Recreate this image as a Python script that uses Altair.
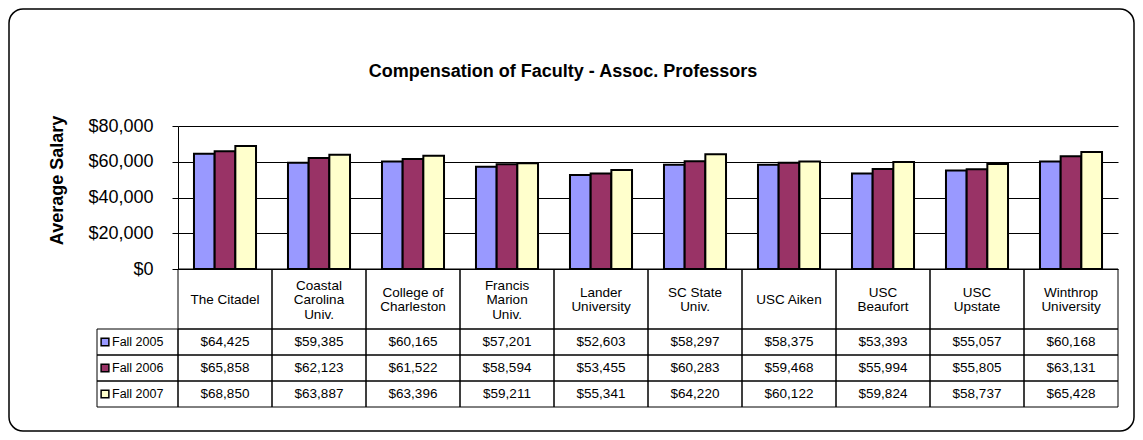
import altair as alt
import pandas as pd

categories = ["The Citadel", "Coastal Carolina Univ.", "College of Charleston",
              "Francis Marion Univ.", "Lander University", "SC State Univ.",
              "USC Aiken", "USC Beaufort", "USC Upstate", "Winthrop University"]
header_labels = ["The Citadel", "Coastal\nCarolina\nUniv.", "College of\nCharleston",
                 "Francis\nMarion\nUniv.", "Lander\nUniversity", "SC State\nUniv.",
                 "USC Aiken", "USC\nBeaufort", "USC\nUpstate", "Winthrop\nUniversity"]
series = ["Fall 2005", "Fall 2006", "Fall 2007"]
fall_2005 = [64425, 59385, 60165, 57201, 52603, 58297, 58375, 53393, 55057, 60168]
fall_2006 = [65858, 62123, 61522, 58594, 53455, 60283, 59468, 55994, 55805, 63131]
fall_2007 = [68850, 63887, 63396, 59211, 55341, 64220, 60122, 59824, 58737, 65428]
colors = ["#9999FF", "#993366", "#FFFFCC"]
y_ticks = [0, 20000, 40000, 60000, 80000]

rows = []
for s, vals in zip(series, [fall_2005, fall_2006, fall_2007]):
    for c, v in zip(categories, vals):
        rows.append({"category": c, "series": s, "value": v, "label": f"${v:,}"})
df = pd.DataFrame(rows)
hdf = pd.DataFrame({"category": categories, "header": header_labels,
                    "nlines": [h.count("\n") + 1 for h in header_labels]})
sdf = pd.DataFrame({"series": series})
fdf = pd.DataFrame({"k": [0]})

FONT = "Liberation Sans"
LH = 14.5

color_enc = alt.Color("series:N", sort=series,
                      scale=alt.Scale(domain=series, range=colors), legend=None)

bars = alt.Chart(df).mark_bar(stroke="black", strokeWidth=2).encode(
    x=alt.X("category:N", sort=categories,
            scale=alt.Scale(domain=categories, paddingInner=0.34, paddingOuter=0.17), axis=None),
    xOffset=alt.XOffset("series:N", sort=series,
                        scale=alt.Scale(domain=series, paddingInner=0, paddingOuter=0)),
    y=alt.Y("value:Q", scale=alt.Scale(domain=[0, 80000]),
            axis=alt.Axis(values=y_ticks, format="$,.0f", title="Average Salary",
                          titleFont=FONT, titleFontSize=18, titleFontWeight="bold",
                          titleColor="black", titleAngle=270, titleAlign="center",
                          titleBaseline="middle", titleX=-121, titleY=54,
                          labelFont=FONT, labelFontSize=18, labelColor="black",
                          labelPadding=19, tickSize=6, tickColor="black",
                          domainColor="black", grid=True, gridColor="black",
                          gridOpacity=1, gridWidth=1, tickWidth=1, domainWidth=1)),
    color=color_enc,
)

x_tab = alt.X("category:N", sort=categories,
              scale=alt.Scale(domain=categories, paddingInner=0, paddingOuter=0), axis=None)
y_tab = alt.Y("series:N", sort=series,
              scale=alt.Scale(domain=series, range=[203, 281], paddingInner=0, paddingOuter=0),
              axis=None)

cells = alt.Chart(df).mark_rect(fillOpacity=0, stroke="black", strokeWidth=1).encode(
    x=x_tab, y=y_tab)
cell_text = alt.Chart(df).mark_text(font=FONT, fontSize=13.5, color="black").encode(
    x=x_tab, y=y_tab, text="label:N")

head_cells = alt.Chart(hdf).mark_rect(fillOpacity=0, stroke="black", strokeWidth=1).encode(
    x=x_tab, y=alt.value(143), y2=alt.value(203))

head_layers = []
for n in (1, 2, 3):
    head_layers.append(
        alt.Chart(hdf).transform_filter(alt.datum.nlines == n).mark_text(
            font=FONT, fontSize=13.5, color="black", lineBreak="\n", lineHeight=LH
        ).encode(x=x_tab, y=alt.value(174 - (n - 1) * LH / 2), text="header:N")
    )

leg_cells = alt.Chart(sdf).mark_rect(fillOpacity=0, stroke="black", strokeWidth=1).encode(
    x=alt.value(-81), x2=alt.value(0), y=y_tab)
leg_sq = alt.Chart(sdf).mark_square(size=60, opacity=1, stroke="black", strokeWidth=1.5).encode(
    x=alt.value(-73), y=y_tab, color=color_enc)
leg_text = alt.Chart(sdf).mark_text(font=FONT, fontSize=12.5, color="black", align="left").encode(
    x=alt.value(-66), y=y_tab, text="series:N")

frame = alt.Chart(fdf).mark_rect(cornerRadius=14, fillOpacity=0, stroke="black",
                                 strokeWidth=1.5).encode(
    x=alt.value(-169), x2=alt.value(956), y=alt.value(-117), y2=alt.value(305))

chart = alt.layer(frame, bars, cells, cell_text, head_cells, *head_layers,
                  leg_cells, leg_sq, leg_text).resolve_scale(
    x="independent", y="independent"
).properties(
    width=940, height=143, padding=0,
    title=alt.TitleParams("Compensation of Faculty - Assoc. Professors", font=FONT,
                          fontSize=18, fontWeight="bold", color="black",
                          anchor="middle", dx=-85, baseline="alphabetic", offset=-87),
).configure_view(stroke=None)

chart.save("out.html", embed_options={"renderer": "svg", "actions": False})
